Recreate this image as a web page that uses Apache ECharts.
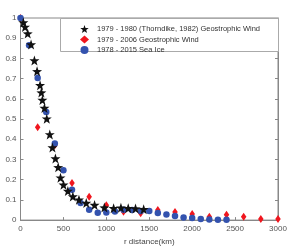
<!DOCTYPE html>
<html><head><meta charset="utf-8">
<script src="https://cdn.jsdelivr.net/npm/echarts@6/dist/echarts.min.js"></script>
<style>html,body{margin:0;padding:0;background:#fff}#c{width:299px;height:251px}</style>
</head><body><div id="c"></div>
<script>
const seriesNames = ['1979 - 1980 (Thorndike, 1982) Geostrophic Wind','1979 - 2006 Geostrophic Wind','1978 - 2015 Sea Ice'];
const thorndikeX = [33,53,84,123,162,193,228,243,255,279,306,341,372,407,439,466,501,552,610,681,766,863,977,1085,1170,1255,1340,1435];
const thorndikeY = [0.978,0.956,0.923,0.869,0.79,0.736,0.667,0.631,0.594,0.555,0.502,0.424,0.359,0.305,0.261,0.21,0.175,0.144,0.117,0.101,0.085,0.075,0.062,0.059,0.061,0.059,0.057,0.054];
const windX = [0,200,400,600,800,1000,1200,1400,1600,1800,2000,2200,2400,2600,2800,3000];
const windY = [1.0,0.46,0.37,0.184,0.116,0.073,0.041,0.034,0.05,0.04,0.03,0.017,0.026,0.017,0.005,0.005];
const iceX = [0,100,200,300,400,500,600,700,800,900,1000,1100,1200,1300,1400,1500,1600,1700,1800,1900,2000,2100,2200,2300,2400];
const iceY = [1.0,0.865,0.703,0.535,0.379,0.247,0.15,0.085,0.051,0.036,0.038,0.043,0.051,0.05,0.045,0.045,0.035,0.028,0.02,0.013,0.01,0.005,0.003,0.002,0.002];
const xTicks = [0,500,1000,1500,2000,2500,3000];
const yTicks = [0,0.1,0.2,0.3,0.4,0.5,0.6,0.7,0.8,0.9,1];

const pairs = (xs, ys) => xs.map((x, i) => [x, ys[i]]);
const star = 'path://M0,-10 L2.35,-3.24 9.51,-3.09 3.8,1.24 5.88,8.09 0,4 -5.88,8.09 -3.8,1.24 -9.51,-3.09 -2.35,-3.24Z';
const F = 'Liberation Sans, Arial, sans-serif';
const axisCol = '#888';
const chart = echarts.init(document.getElementById('c'), null, {renderer: 'canvas'});
chart.setOption({
  animation: false,
  grid: {left: 20.5, right: 21, top: 18, bottom: 28.5, show: true, borderColor: axisCol, borderWidth: 1},
  xAxis: {type: 'value', min: 0, max: 3000, interval: 500,
    name: 'r distance(km)', nameLocation: 'middle', nameGap: 14,
    nameTextStyle: {fontFamily: F, fontSize: 8, color: '#444'},
    axisLine: {show: true, lineStyle: {color: axisCol}},
    axisTick: {show: true, inside: true, length: 3, lineStyle: {color: axisCol}},
    axisLabel: {fontFamily: F, fontSize: 8, color: '#555', margin: 5,
      formatter: v => xTicks.includes(v) ? String(v) : ''},
    splitLine: {show: false}},
  yAxis: [{type: 'value', min: 0, max: 1, interval: 0.1,
    axisLine: {show: true, lineStyle: {color: axisCol}},
    axisTick: {show: true, inside: true, length: 3, lineStyle: {color: axisCol}},
    axisLabel: {fontFamily: F, fontSize: 8, color: '#555', margin: 4,
      formatter: v => { const t = yTicks.find(y => Math.abs(y - v) < 1e-6); return t === undefined ? '' : String(t); }},
    splitLine: {show: false}},
   {type: 'value', min: 0, max: 1, interval: 0.1, position: 'right',
    axisLine: {show: true, lineStyle: {color: axisCol}},
    axisTick: {show: true, inside: true, length: 3, lineStyle: {color: axisCol}},
    axisLabel: {show: false}, splitLine: {show: false}}],
  graphic: [{type: 'rect', left: 60, top: 18, shape: {width: 218, height: 33},
    style: {fill: '#fff', stroke: '#aaa', lineWidth: 1}, z: 10}],
  legend: {orient: 'vertical', left: 75, top: 20, itemWidth: 9, itemHeight: 8, itemGap: 2.5,
    data: [seriesNames[0], seriesNames[1], seriesNames[2]],
    textStyle: {fontFamily: F, fontSize: 7.5, color: '#333', padding: [0, 0, 0, 3]}, z: 20},
  series: [
    {name: seriesNames[1], type: 'scatter', data: pairs(windX, windY), symbol: 'diamond', symbolSize: [5.5, 8],
      itemStyle: {color: '#f0161e', opacity: 1}, z: 2},
    {name: seriesNames[2], type: 'scatter', data: pairs(iceX, iceY), symbol: 'circle', symbolSize: 6.5,
      itemStyle: {color: '#3352ae', opacity: 1}, z: 3},
    {name: seriesNames[0], type: 'scatter', data: pairs(thorndikeX, thorndikeY), symbol: star, symbolSize: 10,
      itemStyle: {color: '#111', opacity: 1}, z: 4}
  ]
});
</script></body></html>
